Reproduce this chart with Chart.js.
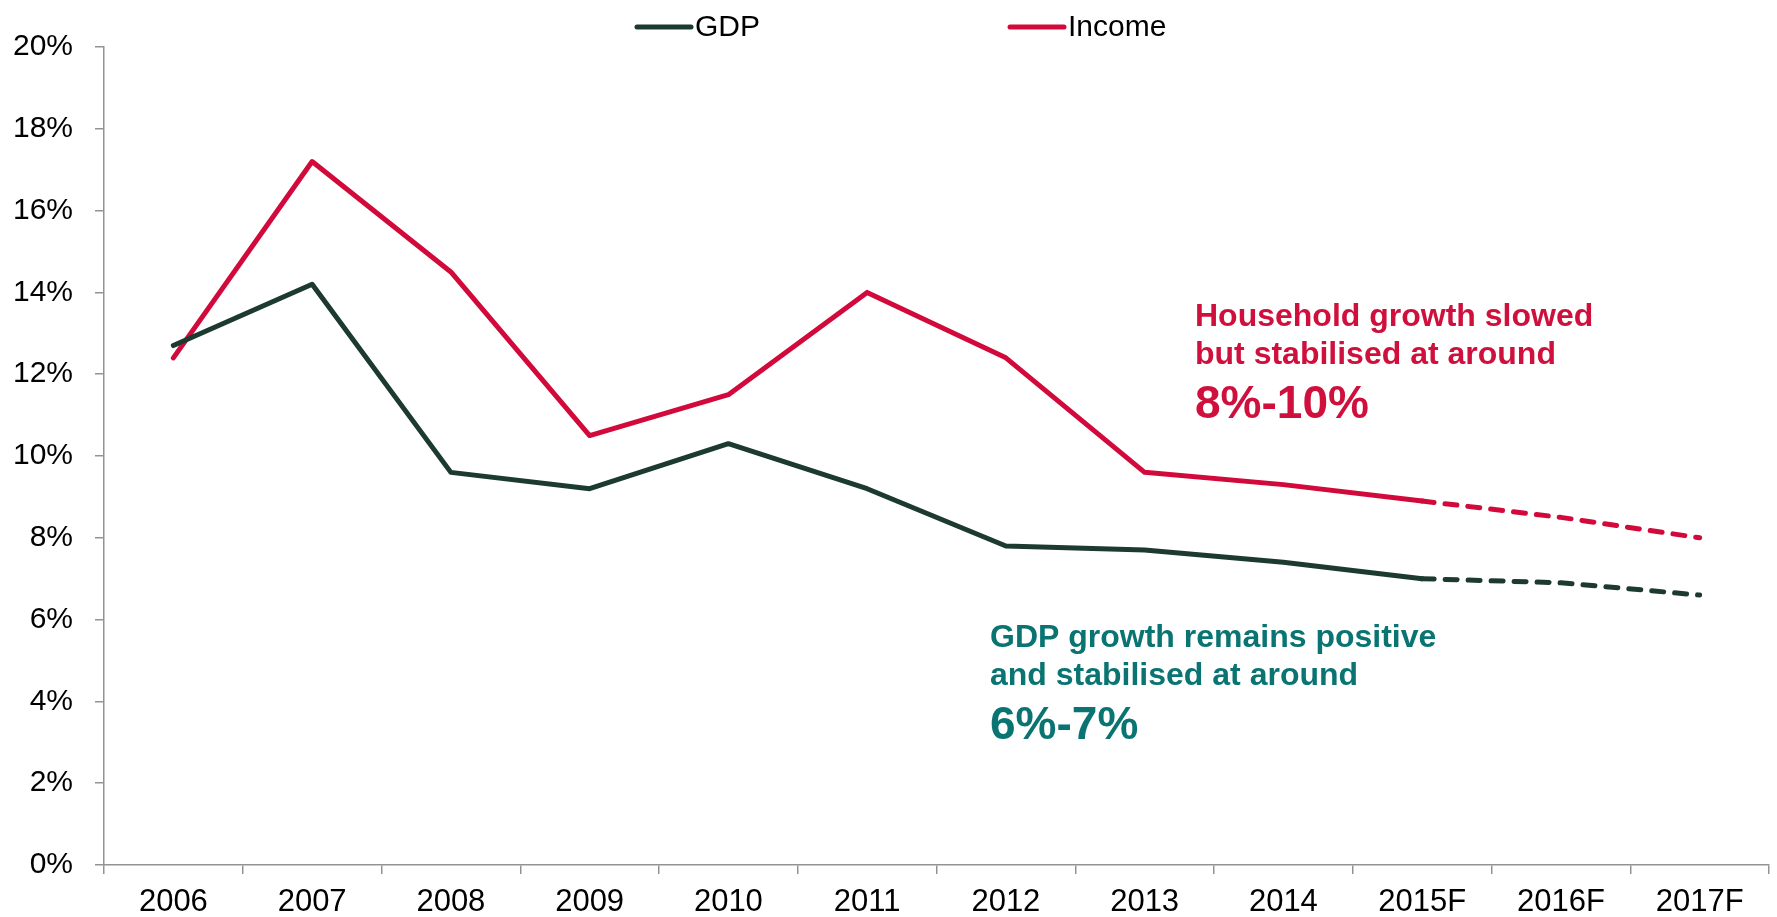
<!DOCTYPE html>
<html>
<head>
<meta charset="utf-8">
<script src="https://cdn.jsdelivr.net/npm/chart.js@4"></script>
<style>
  html, body { margin: 0; padding: 0; background: #fff; }
  #growthChart { display: block; }
</style>
</head>
<body>
<canvas id="growthChart" width="1777" height="917"></canvas>
<script>
var years = ['2006', '2007', '2008', '2009', '2010', '2011', '2012', '2013', '2014', '2015F', '2016F', '2017F'];
var gdpGrowth = [12.7, 14.2, 9.6, 9.2, 10.3, 9.2, 7.8, 7.7, 7.4, 7.0, 6.9, 6.6];
var incomeGrowth = [12.4, 17.2, 14.5, 10.5, 11.5, 14.0, 12.4, 9.6, 9.3, 8.9, 8.5, 8.0];
var yTicks = [0, 2, 4, 6, 8, 10, 12, 14, 16, 18, 20];
var forecastFrom = years.indexOf('2015F');

var gdpColor = '#1d3a30';
var incomeColor = '#d20a3c';
var axisColor = '#939393';
var fontFamily = "'Liberation Sans', Arial, sans-serif";

// forecast years get a dashed line
function forecastDash(ctx) {
    return ctx.p0DataIndex >= forecastFrom ? [12, 11] : undefined;
}

// legend: short thick line followed by the label
var lineLegend = {
    id: 'lineLegend',
    afterDraw: function(chart, args, opts) {
        var ctx = chart.ctx;
        ctx.save();
        chart.data.datasets.forEach(function(ds, i) {
            var x = opts.starts[i], y = opts.y;
            ctx.strokeStyle = ds.borderColor;
            ctx.lineWidth = 5;
            ctx.lineCap = 'round';
            ctx.beginPath();
            ctx.moveTo(x, y);
            ctx.lineTo(x + 54, y);
            ctx.stroke();
            ctx.fillStyle = '#000';
            ctx.font = '30px ' + fontFamily;
            ctx.textBaseline = 'middle';
            ctx.textAlign = 'left';
            ctx.fillText(ds.label, x + 58, y + 1);
        });
        ctx.restore();
    }
};

// two text notes on the right of the plot
var notes = {
    id: 'notes',
    afterDraw: function(chart, args, opts) {
        var ctx = chart.ctx;
        ctx.save();
        ctx.textAlign = 'left';
        ctx.textBaseline = 'alphabetic';
        opts.items.forEach(function(n) {
            ctx.fillStyle = n.color;
            ctx.font = 'bold 32px ' + fontFamily;
            ctx.fillText(n.lines[0], n.x, n.y);
            ctx.fillText(n.lines[1], n.x, n.y + 37.5);
            ctx.font = 'bold 46px ' + fontFamily;
            ctx.fillText(n.big, n.x, n.y + 91.5);
        });
        ctx.restore();
    }
};

var ctx = document.getElementById('growthChart').getContext('2d');

var chart = new Chart(ctx, {
    type: 'line',
    data: {
        labels: years,
        datasets: [{
            label: 'GDP',
            data: gdpGrowth,
            borderColor: gdpColor,
            backgroundColor: gdpColor,
            borderWidth: 5,
            borderCapStyle: 'round',
            borderJoinStyle: 'round',
            tension: 0,
            fill: false,
            pointRadius: 0,
            segment: { borderDash: forecastDash }
        }, {
            label: 'Income',
            data: incomeGrowth,
            borderColor: incomeColor,
            backgroundColor: incomeColor,
            borderWidth: 5,
            borderCapStyle: 'round',
            borderJoinStyle: 'round',
            tension: 0,
            fill: false,
            pointRadius: 0,
            segment: { borderDash: forecastDash }
        }]
    },
    options: {
        responsive: false,
        animation: false,
        layout: {
            padding: { left: 13, right: 8, top: 47, bottom: 0 }
        },
        plugins: {
            legend: { display: false },
            tooltip: { enabled: false },
            lineLegend: { starts: [637, 1010], y: 27 },
            notes: {
                items: [{
                    x: 1195, y: 326, color: '#d0103c',
                    lines: ['Household growth slowed', 'but stabilised at around'],
                    big: '8%-10%'
                }, {
                    x: 990, y: 647, color: '#0a7472',
                    lines: ['GDP growth remains positive', 'and stabilised at around'],
                    big: '6%-7%'
                }]
            }
        },
        scales: {
            x: {
                offset: true,
                afterFit: function(axis) { axis.height = 52; },
                grid: {
                    offset: true,
                    drawOnChartArea: false,
                    drawTicks: true,
                    tickLength: 9,
                    color: axisColor,
                    lineWidth: 1.5
                },
                border: { display: true, color: axisColor, width: 1.5 },
                ticks: {
                    color: '#000',
                    padding: 12.5,
                    maxRotation: 0,
                    autoSkip: false,
                    font: { family: fontFamily, size: 31, lineHeight: 1 }
                }
            },
            y: {
                min: 0,
                max: 20,
                afterFit: function(axis) { axis.width = 91; },
                afterBuildTicks: function(axis) {
                    axis.ticks = yTicks.map(function(v) { return { value: v }; });
                },
                grid: {
                    drawOnChartArea: false,
                    drawTicks: true,
                    tickLength: 9,
                    color: axisColor,
                    lineWidth: 1.5
                },
                border: { display: true, color: axisColor, width: 1.5 },
                ticks: {
                    color: '#000',
                    padding: 22,
                    callback: function(v) { return v + '%'; },
                    font: { family: fontFamily, size: 30, lineHeight: 1.2 }
                }
            }
        }
    },
    plugins: [lineLegend, notes]
});
</script>
</body>
</html>
